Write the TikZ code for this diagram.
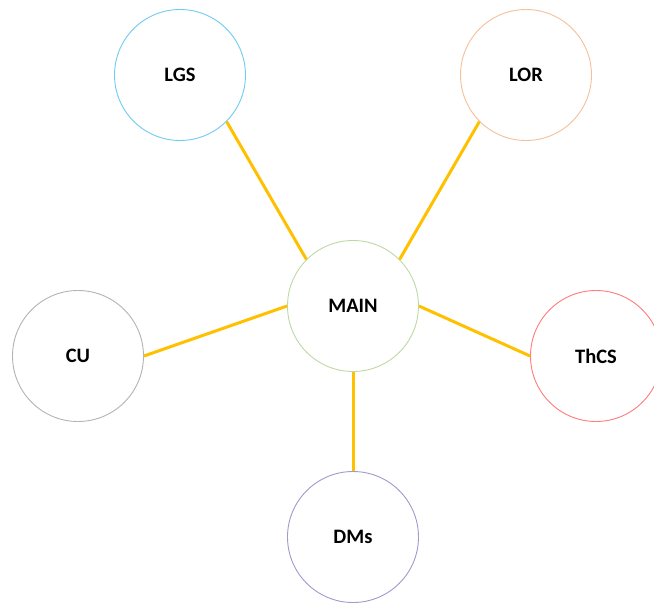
\documentclass[tikz,border=0pt]{standalone}
\usepackage{fontspec}
\setmainfont{Carlito}
\definecolor{cLGS}{HTML}{6FCDF2}
\definecolor{cLOR}{HTML}{F6C09A}
\definecolor{cMAIN}{HTML}{BFD9A6}
\definecolor{cCU}{HTML}{B4B4B4}
\definecolor{cThCS}{HTML}{FF7C7C}
\definecolor{cDMs}{HTML}{A498CC}
\definecolor{conn}{HTML}{FFC000}
\begin{document}
\begin{tikzpicture}[x=1pt,y=-1pt,
  bubble/.style={circle,draw,line width=0.9pt,minimum size=131pt,inner sep=0pt,font=\fontsize{20.5}{24}\selectfont\bfseries,fill=white},
  link/.style={draw=conn,line width=3pt}]
\useasboundingbox (0,0) rectangle (654,603);
\clip (0,0) rectangle (654,603);
\node[bubble,draw=cMAIN] (main) at (353,306) {MAIN};
\node[bubble,draw=cLGS] (lgs) at (180,75) {LGS};
\node[bubble,draw=cLOR] (lor) at (526,75) {LOR};
\node[bubble,draw=cCU] (cu) at (78,356) {CU};
\node[bubble,draw=cThCS] (thcs) at (596,356) {ThCS};
\node[bubble,draw=cDMs] (dms) at (353,537) {DMs};
\draw[link] (lgs.-45) -- (main.135);
\draw[link] (lor.-135) -- (main.45);
\draw[link] (cu.east) -- (main.west);
\draw[link] (thcs.west) -- (main.east);
\draw[link] (dms.north) -- (main.south);
\end{tikzpicture}
\end{document}
